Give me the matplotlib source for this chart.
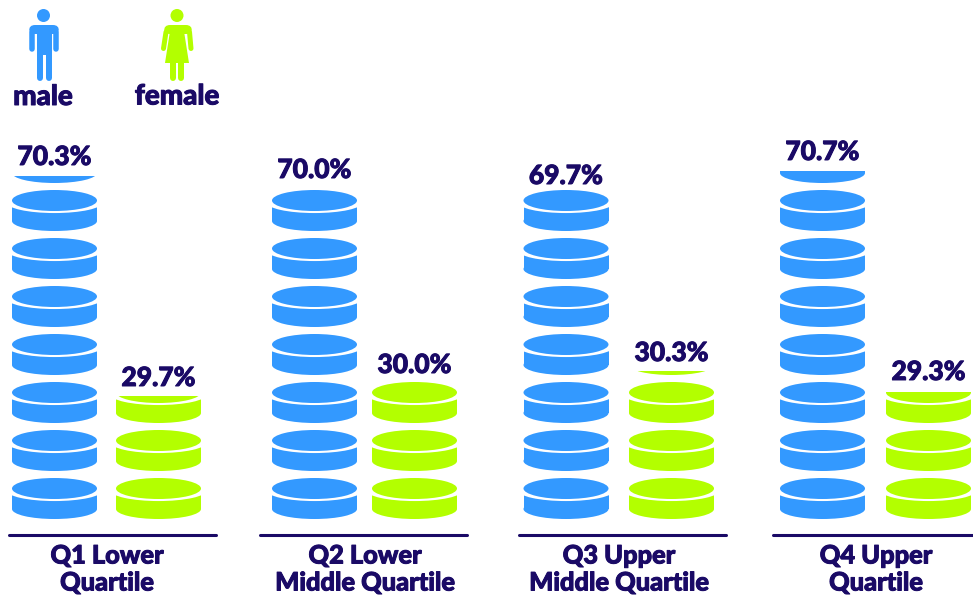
import numpy as np
import matplotlib
matplotlib.use("Agg")
import matplotlib.pyplot as plt
import matplotlib.patheffects as pe
from matplotlib.patches import Ellipse, Rectangle, Circle, Polygon, FancyBboxPatch

categories = ["Q1 Lower\nQuartile", "Q2 Lower\nMiddle Quartile", "Q3 Upper\nMiddle Quartile", "Q4 Upper\nQuartile"]
male_labels = ["70.3%", "70.0%", "69.7%", "70.7%"]
female_labels = ["29.7%", "30.0%", "30.3%", "29.3%"]
# stack heights as drawn in the picture, counted in disc pitches
male_stack = [7.146, 6.854, 6.854, 7.25]
female_stack = [2.5625, 2.854, 3.083, 2.646]

BLUE = "#3399ff"
GREEN = "#b3ff00"
NAVY = "#1a0a66"
FONT = "Lato"
HEAVY = [pe.withStroke(linewidth=0.7, foreground=NAVY)]

# layout, in pixels
W, H = 973, 595
BASE = 519
PITCH = 48
male_x = [54.5, 314.5, 566, 822.5]
female_x = [158.5, 414.5, 671.5, 928.5]
male_gap = [19, 20, 14, 19]
female_gap = [18, 17, 18, 20]
group_x = [107, 365, 619, 876]
rule_x = [(8.5, 215.5), (259.5, 466.5), (518.5, 725.5), (772.5, 973)]
DISC_W = 85


def disc(ax, x, level, color, clip):
    # level is the number of discs below this one
    py = 1 / PITCH
    bottom = level
    parts = [
        Ellipse((x, bottom + 10 * py), DISC_W, 20 * py, color=color, lw=0),
        Rectangle((x - DISC_W / 2, bottom + 10 * py), DISC_W, 14 * py, color=color, lw=0),
        Ellipse((x, bottom + 28.6 * py), 96, 21.3 * py, color="white", lw=0),
        Ellipse((x, bottom + 30.5 * py), DISC_W, 21 * py, color=color, lw=0),
    ]
    for p in parts:
        ax.add_patch(p)
        p.set_clip_path(clip)


def stack(ax, xs, heights, labels, gaps, color):
    bars = ax.bar(xs, heights, width=DISC_W + 1, color="none", linewidth=0)
    for x, h, rect, lab, gap in zip(xs, heights, bars, labels, gaps):
        for level in range(int(np.ceil(h))):
            disc(ax, x, level, color, rect)
        ax.text(x, h + gap / PITCH, lab, ha="center", va="center", color=NAVY,
                fontsize=19, family=FONT, fontweight="black", path_effects=HEAVY)


def limb(ov, pts, width, color):
    xs, ys = zip(*pts)
    ov.plot(xs, ys, color=color, lw=width * 0.72, solid_capstyle="round")


fig = plt.figure(figsize=(W / 100, H / 100), dpi=100)
ax = fig.add_axes([0, 0, 1, 1])
ax.set_xlim(0, W)
ax.set_ylim((BASE - H) / PITCH, BASE / PITCH)
ax.axis("off")

stack(ax, male_x, male_stack, male_labels, male_gap, BLUE)
stack(ax, female_x, female_stack, female_labels, female_gap, GREEN)

# overlay in pixel coordinates for rules, captions and the legend icons
ov = fig.add_axes([0, 0, 1, 1])
ov.set_xlim(0, W)
ov.set_ylim(H, 0)
ov.axis("off")
ov.patch.set_alpha(0)

for (x0, x1), x, cat in zip(rule_x, group_x, categories):
    ov.plot([x0, x1], [535, 535], color=NAVY, lw=2.2, solid_capstyle="round")
    line1, line2 = cat.split("\n")
    ov.text(x, 556, line1, ha="center", va="center", color=NAVY, fontsize=18.3, family=FONT,
            fontweight="black", path_effects=HEAVY)
    ov.text(x, 583, line2, ha="center", va="center", color=NAVY, fontsize=18.3, family=FONT,
            fontweight="black", path_effects=HEAVY)

# male icon
ov.add_patch(Circle((43.5, 15.5), 6.5, color=BLUE, lw=0))
ov.add_patch(FancyBboxPatch((29, 25), 30, 9, boxstyle="round,pad=0,rounding_size=6", color=BLUE, lw=0))
ov.add_patch(Rectangle((37, 30), 15, 25, color=BLUE, lw=0))
limb(ov, [(32, 32), (32, 48.5)], 5.5, BLUE)
limb(ov, [(56, 32), (56, 48.5)], 5.5, BLUE)
limb(ov, [(39.5, 52), (39.5, 77.5)], 6, BLUE)
limb(ov, [(48.5, 52), (48.5, 77.5)], 6, BLUE)

# female icon
ov.add_patch(Circle((177, 15.5), 6.5, color=GREEN, lw=0))
ov.add_patch(FancyBboxPatch((164, 25), 28, 9, boxstyle="round,pad=0,rounding_size=6", color=GREEN, lw=0))
ov.add_patch(Polygon([(170.5, 28), (183.5, 28), (189, 63), (165, 63)], color=GREEN, lw=0))
limb(ov, [(166, 32), (163.5, 48.5)], 5, GREEN)
limb(ov, [(189.5, 32), (191, 48.5)], 5, GREEN)
limb(ov, [(172.5, 62), (172.5, 77.5)], 6, GREEN)
limb(ov, [(181, 62), (181, 77.5)], 6, GREEN)

ov.text(43, 97, "male", ha="center", va="center", color=NAVY, fontsize=20, family=FONT,
        fontweight="black", path_effects=HEAVY)
ov.text(177, 96.5, "female", ha="center", va="center", color=NAVY, fontsize=20, family=FONT,
        fontweight="black", path_effects=HEAVY)

fig.savefig("out.png", dpi=100, facecolor="white")
